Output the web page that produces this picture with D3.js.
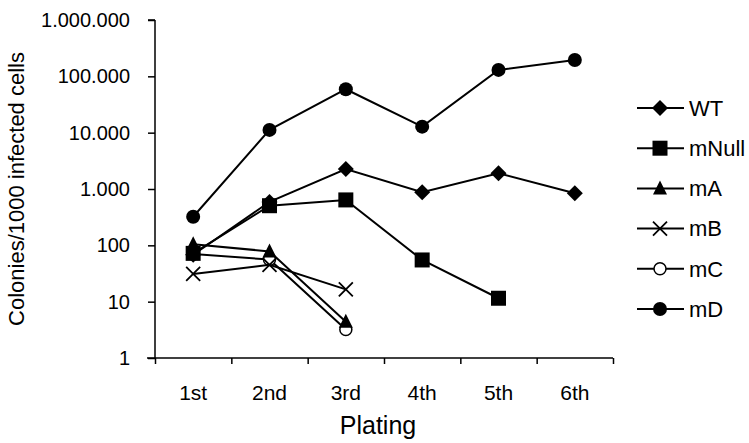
<!DOCTYPE html>
<html><head><meta charset="utf-8">
<script src="https://cdn.jsdelivr.net/npm/d3@7"></script>
<style>body{margin:0;background:#fff}svg{display:block}text{font-family:"Liberation Sans",Arial,sans-serif;fill:#000}</style>
</head><body><svg id="c" width="749" height="443"></svg>
<script>
const categories = ["1st","2nd","3rd","4th","5th","6th"];
const yTicks = [1,10,100,1000,10000,100000,1000000];
const seriesNames = ["WT","mNull","mA","mB","mC","mD"];
const WT    = [68, 590, 2260, 875, 1900, 840];
const mNull = [72, 505, 640, 55, 11.5];
const mA    = [105, 78, 4.4];
const mB    = [31, 45, 16.5];
const mC    = [70, 56, 3.2];
const mD    = [322, 11200, 59000, 12800, 130000, 195000];
const symbols = ["diamond","square","triangle","cross","circleOpen","circle"];
const drawOrder = [5,4,3,0,1,2];

const data = [WT,mNull,mA,mB,mC,mD];
const svg = d3.select("#c");
const L=155, R=613, T=20, B=358;
const x = d3.scaleBand().domain(categories).range([L,R]);
const xb = d3.scaleLinear().domain([0,categories.length]).range([L,R]);
const y = d3.scaleLog().domain([1,1e6]).range([B,T]);
const loc = d3.formatLocale({decimal:",",thousands:".",grouping:[3],currency:["",""]});
const fmt = loc.format(",");

// y axis
const gy = svg.append("g").attr("transform",`translate(${L},0)`)
  .call(d3.axisLeft(y).tickValues(yTicks).tickFormat(fmt).tickSize(7).tickPadding(18));
gy.selectAll("text").style("font-size","20px").attr("font-family",null);
gy.selectAll("path,line").attr("stroke","#000").attr("stroke-width",1.5);
gy.select(".domain").attr("d",`M0,${T}H-7M0,${T}V${B}`);

// x axis ticks at boundaries
const gxb = svg.append("g").attr("transform",`translate(0,${B})`)
  .call(d3.axisBottom(xb).tickValues(d3.range(categories.length+1)).tickFormat("").tickSize(6));
gxb.selectAll("path,line").attr("stroke","#000").attr("stroke-width",1.5);
gxb.select(".domain").attr("d",`M${L-8},0H${R}`);
// x labels
const gx = svg.append("g").attr("transform",`translate(0,${B})`)
  .call(d3.axisBottom(x).tickSize(0).tickPadding(27));
gx.select(".domain").remove();
gx.selectAll("text").style("font-size","21px").attr("dy",null).attr("y",42);

// titles
svg.append("text").attr("transform","translate(24,189) rotate(-90)").attr("text-anchor","middle")
  .style("font-size","22px").text("Colonies/1000 infected cells");
svg.append("text").attr("x",378).attr("y",434).attr("text-anchor","middle")
  .style("font-size","25px").text("Plating");

function drawSym(g, type, cx, cy){
  if(type==="diamond"){
    g.append("path").attr("d",`M${cx},${cy-8}L${cx+8},${cy}L${cx},${cy+8}L${cx-8},${cy}Z`).attr("fill","#000");
  } else if(type==="square"){
    g.append("rect").attr("x",cx-7.5).attr("y",cy-7.5).attr("width",15).attr("height",15).attr("fill","#000");
  } else if(type==="triangle"){
    g.append("path").attr("d",`M${cx},${cy-8}L${cx+7},${cy+6}L${cx-7},${cy+6}Z`).attr("fill","#000");
  } else if(type==="cross"){
    g.append("path").attr("d",`M${cx-7},${cy-7}L${cx+7},${cy+7}M${cx+7},${cy-7}L${cx-7},${cy+7}`).attr("stroke","#000").attr("stroke-width",1.8).attr("fill","none");
  } else if(type==="circleOpen"){
    g.append("circle").attr("cx",cx).attr("cy",cy).attr("r",6).attr("fill","#fff").attr("stroke","#000").attr("stroke-width",1.5);
  } else {
    g.append("circle").attr("cx",cx).attr("cy",cy).attr("r",7).attr("fill","#000");
  }
}

const line = d3.line().x((d,i)=>x(categories[i])+x.bandwidth()/2).y(d=>y(d));
drawOrder.forEach(k=>{
  const s = data[k];
  const g = svg.append("g");
  g.append("path").attr("d",line(s)).attr("fill","none").attr("stroke","#000").attr("stroke-width",2);
  s.forEach((v,i)=>drawSym(g,symbols[k],x(categories[i])+x.bandwidth()/2,y(v)));
});

// legend
const legY = d3.scalePoint().domain(seriesNames).range([108,309]);
seriesNames.forEach((n,k)=>{
  const g = svg.append("g");
  const cy = legY(n);
  g.append("line").attr("x1",637).attr("x2",684).attr("y1",cy).attr("y2",cy).attr("stroke","#000").attr("stroke-width",2);
  drawSym(g,symbols[k],660,cy);
  g.append("text").attr("x",689).attr("y",cy).attr("dy","0.35em").style("font-size","22px").text(n);
});
</script></body></html>
